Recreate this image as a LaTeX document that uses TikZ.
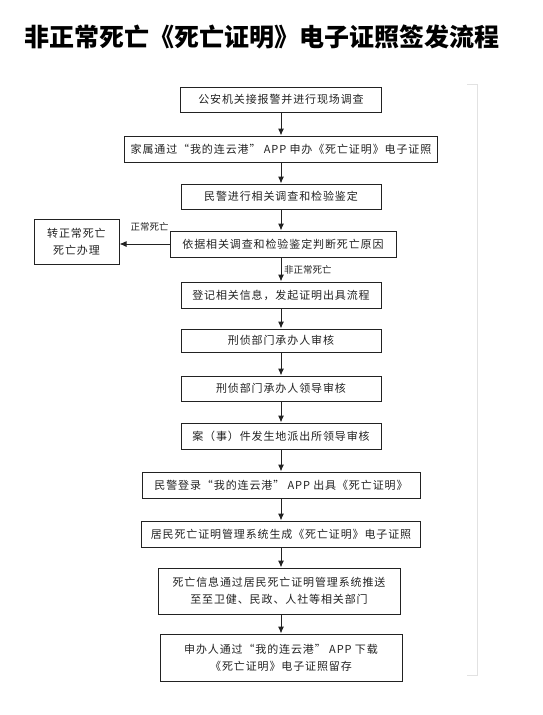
\documentclass[tikz,border=0pt]{standalone}
\usepackage{fontspec}
\usetikzlibrary{arrows.meta,positioning,calc}
\setmainfont{Noto Sans CJK SC}
\newfontfamily\boxfont[LetterSpace=8]{Noto Sans CJK SC}
\definecolor{ink}{HTML}{222222}
\definecolor{scanline}{HTML}{E2E2E2}

\begin{document}
\begin{tikzpicture}[x=1pt,y=-1pt,>={Latex[length=7pt,width=6pt]},
  box/.style={draw=ink,line width=1pt,inner sep=0pt,align=center,text=ink,
    font=\boxfont\fontsize{11}{17}\selectfont},
  tag/.style={text=ink,inner sep=1pt,font=\fontsize{9.5}{11}\selectfont}]
\useasboundingbox (0,0) rectangle (542,715);
\node[font=\bfseries\fontsize{25}{27}\selectfont] (title) at (262,37) {非正常死亡《死亡证明》电子证照签发流程};

\node[box,minimum width=201pt,minimum height=25pt] (b1) at (281,99.5) {公安机关接报警并进行现场调查};
\node[box,minimum width=313pt,minimum height=26pt] (b2) at (281,149) {家属通过“我的连云港” APP 申办《死亡证明》电子证照};
\node[box,minimum width=200pt,minimum height=25pt] (b3) at (281,196.5) {民警进行相关调查和检验鉴定};
\node[box,minimum width=226pt,minimum height=26pt] (b4) at (283,244) {依据相关调查和检验鉴定判断死亡原因};
\node[box,minimum width=85pt,minimum height=45pt] (normal) at (76.5,241.5) {转正常死亡\\死亡办理};
\node[box,minimum width=200pt,minimum height=26pt] (b5) at (281,295) {登记相关信息，发起证明出具流程};
\node[box,minimum width=200pt,minimum height=23pt] (b6) at (281,340.5) {刑侦部门承办人审核};
\node[box,minimum width=200pt,minimum height=25pt] (b7) at (281,388.5) {刑侦部门承办人领导审核};
\node[box,minimum width=200pt,minimum height=26pt] (b8) at (281,436) {案（事）件发生地派出所领导审核};
\node[box,minimum width=278pt,minimum height=26pt] (b9) at (281,485) {民警登录“我的连云港” APP 出具《死亡证明》};
\node[box,minimum width=279pt,minimum height=26pt] (b10) at (281,534) {居民死亡证明管理系统生成《死亡证明》电子证照};
\node[box,minimum width=242pt,minimum height=46pt] (b11) at (279,591) {死亡信息通过居民死亡证明管理系统推送\\至至卫健、民政、人社等相关部门};
\node[box,minimum width=242pt,minimum height=47pt] (b12) at (281,657.5) {申办人通过“我的连云港” APP 下载\\《死亡证明》电子证照留存};

% flow arrows
\foreach \a/\b in {b1/b2,b2/b3,b3/b4,b5/b6,b6/b7,b7/b8,b8/b9,b9/b10,b10/b11,b11/b12}
  \draw[->,line width=1pt,ink] (\a.south -| 281,0) -- (\b.north -| 281,0);
\draw[->,line width=1pt,ink] (b4.south -| 281,0) -- (b5.north -| 281,0);
\draw[->,line width=1pt,ink] (b4.west) -- (b4.west -| normal.east);
\node[tag] (yes) at (149.5,227) {正常死亡};
\node[tag,anchor=west] (no) at (283,270) {非正常死亡};

% faint page edge
\draw[scanline,line width=0.8pt] (467,84) -- (477,84) -- (477,675) -- (467,675);
\end{tikzpicture}
\end{document}
